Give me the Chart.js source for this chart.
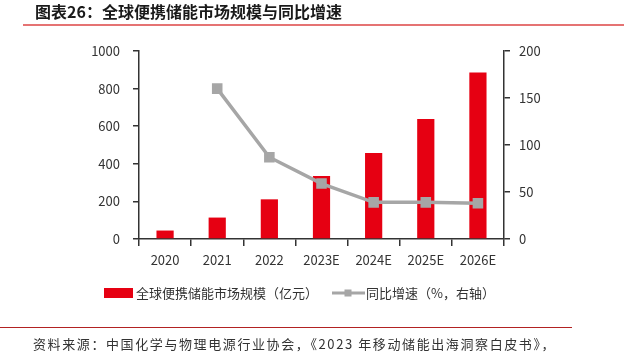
<!DOCTYPE html>
<html>
<head>
<meta charset="utf-8">
<script src="https://cdn.jsdelivr.net/npm/chart.js@4"></script>
<style>
  html, body { margin: 0; padding: 0; background: #fff; }
  #wrap { width: 624px; height: 360px; position: relative; }
</style>
</head>
<body>
<div id="wrap"><canvas id="c" width="624" height="360"></canvas></div>
<script>
  const years = ['2020', '2021', '2022', '2023E', '2024E', '2025E', '2026E'];
  const marketSize = [45, 114, 211, 335, 457, 638, 885];
  const yoyGrowth = [null, 160, 87, 59, 39, 39, 38];
  const leftTicks = [0, 200, 400, 600, 800, 1000];
  const rightTicks = [0, 50, 100, 150, 200];

  const FONT = '"Noto Sans CJK SC", "Noto Sans", sans-serif';
  const TXT = '#333333';

  // title, separator lines, source note and legend
  const decor = {
    id: 'decor',
    afterDraw(chart) {
      const ctx = chart.ctx;
      ctx.save();
      ctx.fillStyle = '#1a1a1a';
      ctx.font = 'bold 16px ' + FONT;
      ctx.textBaseline = 'middle';
      ctx.fillText('图表26：全球便携储能市场规模与同比增速', 35, 12);

      ctx.strokeStyle = '#e57373';
      ctx.lineWidth = 2;
      ctx.beginPath(); ctx.moveTo(23, 25); ctx.lineTo(624, 25); ctx.stroke();

      ctx.strokeStyle = '#b22222';
      ctx.lineWidth = 1;
      ctx.beginPath(); ctx.moveTo(0, 327.5); ctx.lineTo(572, 327.5); ctx.stroke();

      ctx.fillStyle = '#333';
      ctx.font = '13px ' + FONT;
      ctx.letterSpacing = '1.6px';
      ctx.fillText('资料来源：中国化学与物理电源行业协会，《2023 年移动储能出海洞察白皮书》，', 33, 344);
      ctx.letterSpacing = '0px';

      // legend
      const ds = chart.data.datasets;
      const ly = 293;
      ctx.font = '13px ' + FONT;
      ctx.fillStyle = ds[0].backgroundColor;
      ctx.fillRect(104, ly - 5, 29, 10);
      ctx.fillStyle = TXT;
      ctx.fillText(ds[0].label, 136, ly);

      ctx.strokeStyle = ds[1].borderColor;
      ctx.lineWidth = 3;
      ctx.beginPath(); ctx.moveTo(332, ly); ctx.lineTo(365, ly); ctx.stroke();
      ctx.fillStyle = ds[1].pointBackgroundColor;
      ctx.fillRect(344.5, ly - 3.5, 7, 7);
      ctx.fillStyle = TXT;
      ctx.fillText(ds[1].label, 366, ly);
      ctx.restore();
    }
  };

  new Chart(document.getElementById('c'), {
    type: 'bar',
    data: {
      labels: years,
      datasets: [
        {
          type: 'bar',
          label: '全球便携储能市场规模（亿元）',
          data: marketSize,
          backgroundColor: '#e60012',
          barPercentage: 0.33,
          categoryPercentage: 1,
          yAxisID: 'y',
          order: 2
        },
        {
          type: 'line',
          label: '同比增速（%，右轴）',
          data: yoyGrowth,
          borderColor: '#a6a6a6',
          backgroundColor: '#a6a6a6',
          pointBackgroundColor: '#a6a6a6',
          pointBorderColor: '#a6a6a6',
          borderWidth: 3.5,
          pointStyle: 'rect',
          pointRadius: 5,
          tension: 0,
          yAxisID: 'y1',
          order: 1
        }
      ]
    },
    options: {
      responsive: false,
      animation: false,
      devicePixelRatio: 1,
      layout: { padding: { top: 51, left: 0, right: 0, bottom: 91 } },
      plugins: { legend: { display: false }, tooltip: { enabled: false } },
      scales: {
        x: {
          offset: true,
          grid: { display: true, drawOnChartArea: false, offset: true, color: '#333', tickLength: 7, lineWidth: 1.5 },
          border: { color: '#333', width: 1.5 },
          ticks: { color: TXT, font: { family: FONT, size: 13 }, padding: 6, maxRotation: 0 },
          afterFit(s) { s.height = 30; }
        },
        y: {
          position: 'left',
          min: 0, max: 1000,
          afterBuildTicks(s) { s.ticks = leftTicks.map(v => ({ value: v })); },
          grid: { drawOnChartArea: false, color: '#333', tickLength: 6, lineWidth: 1.5 },
          border: { color: '#333', width: 1.5 },
          ticks: { color: TXT, font: { family: FONT, size: 13 }, padding: 13, callback: v => String(v) },
          afterFit(s) { s.width = 139; }
        },
        y1: {
          position: 'right',
          min: 0, max: 200,
          afterBuildTicks(s) { s.ticks = rightTicks.map(v => ({ value: v })); },
          grid: { drawOnChartArea: false, color: '#333', tickLength: 6, lineWidth: 1.5 },
          border: { color: '#333', width: 1.5 },
          ticks: { color: TXT, font: { family: FONT, size: 13 }, padding: 9, callback: v => String(v) },
          afterFit(s) { s.width = 120; }
        }
      }
    },
    plugins: [decor]
  });
</script>
</body>
</html>
